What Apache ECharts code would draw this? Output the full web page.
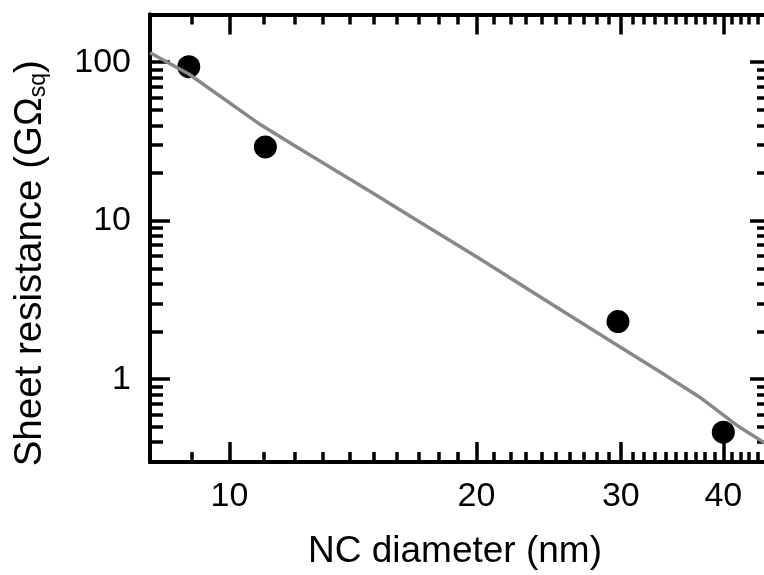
<!DOCTYPE html>
<html>
<head>
<meta charset="utf-8">
<script src="https://cdn.jsdelivr.net/npm/echarts@6/dist/echarts.min.js"></script>
<style>
  html, body { margin: 0; padding: 0; background: #fff; }
  #chart { width: 764px; height: 575px; }
</style>
</head>
<body>
<div id="chart"></div>
<script>
// measured points (NC diameter in nm, sheet resistance in GOhm/sq)
const dotD = [8.92, 11.06, 29.76, 40.0];
const dotR = [93.7, 29.2, 2.31, 0.463];

// gray fit line
const fitD = [8.0, 8.92, 10.85, 12.15, 15.0, 16.5, 20.1, 24.2, 29.8, 33.4, 37.4, 41.8, 45.5];
const fitR = [114.7, 84.3, 41.1, 28.6, 14.8, 10.9, 5.84, 3.18, 1.62, 1.12, 0.772, 0.50, 0.38];

// tick values
const xMajor = [10, 20, 30, 40];
const xMinor = [9, 11, 12, 13, 14, 15, 16, 17, 18, 19, 21, 22, 23, 24, 25, 26, 27, 28, 29,
                31, 32, 33, 34, 35, 36, 37, 38, 39, 41, 42, 43, 44, 45];
const yMajor = [1, 10, 100];
const yMinor = [0.3, 0.4, 0.5, 0.6, 0.7, 0.8, 0.9, 2, 3, 4, 5, 6, 7, 8, 9,
                20, 30, 40, 50, 60, 70, 80, 90, 200];

const xRange = [8, 45.6];
const yRange = [0.3, 200];

const lg = v => Math.log10(v);
const font = "'Liberation Sans', Arial, sans-serif";

// both axes are log scales: values go through log10 and the labels back
function axis(dir, pos, ticks, len, labels) {
    const r = dir === 'x' ? xRange : yRange;
    return {
        type: 'value',
        position: pos,
        min: lg(r[0]),
        max: lg(r[1]),
        splitLine: { show: false },
        axisLine: { show: true, onZero: false, lineStyle: { color: '#000', width: 4 } },
        axisTick: {
            show: true, inside: true, length: len,
            customValues: ticks.map(lg),
            lineStyle: { color: '#000', width: 3.5 }
        },
        axisLabel: labels ? {
            show: true,
            customValues: ticks.map(lg),
            formatter: v => String(Math.round(Math.pow(10, v))),
            color: '#000', fontSize: 34, fontFamily: font,
            margin: dir === 'x' ? 18 : 19
        } : { show: false }
    };
}

const xAxes = [
    axis('x', 'bottom', xMajor, 20, true),
    axis('x', 'bottom', xMinor, 10, false),
    axis('x', 'top', xMajor, 20, false),
    axis('x', 'top', xMinor, 10, false)
];
xAxes[0].name = 'NC diameter (nm)';
xAxes[0].nameLocation = 'middle';
xAxes[0].nameGap = 71;
xAxes[0].nameTextStyle = { color: '#000', fontSize: 37, fontFamily: font, padding: [0, 10, 0, 0] };

const yAxes = [
    axis('y', 'left', yMajor, 20, true),
    axis('y', 'left', yMinor, 13, false),
    axis('y', 'right', yMajor, 20, false),
    axis('y', 'right', yMinor, 13, false)
];
yAxes[0].name = '{a|Sheet resistance (GΩ}{s|sq}{a|)}';
yAxes[0].nameLocation = 'middle';
yAxes[0].nameGap = 100;
yAxes[0].nameTextStyle = {
    color: '#000', fontFamily: font,
    padding: [0, 50, 0, 0],
    rich: {
        a: { fontSize: 38.5, color: '#000', fontFamily: font },
        s: { fontSize: 23, color: '#000', fontFamily: font, verticalAlign: 'bottom', padding: [14, 0, 0, 0] }
    }
};

const chart = echarts.init(document.getElementById('chart'));
chart.setOption({
    animation: false,
    backgroundColor: '#fff',
    grid: {
        left: 150, top: 14.5, right: -6, bottom: 113,
        containLabel: false, outerBoundsMode: 'none'
    },
    xAxis: xAxes,
    yAxis: yAxes,
    series: [
        {
            type: 'scatter',
            data: dotD.map((d, i) => [lg(d), lg(dotR[i])]),
            symbol: 'circle',
            symbolSize: 23,
            itemStyle: { color: '#000', opacity: 1 },
            z: 2
        },
        {
            type: 'line',
            data: fitD.map((d, i) => [lg(d), lg(fitR[i])]),
            showSymbol: false,
            symbol: 'none',
            lineStyle: { color: '#888', width: 3.5 },
            clip: true,
            z: 3
        }
    ]
});
</script>
</body>
</html>
